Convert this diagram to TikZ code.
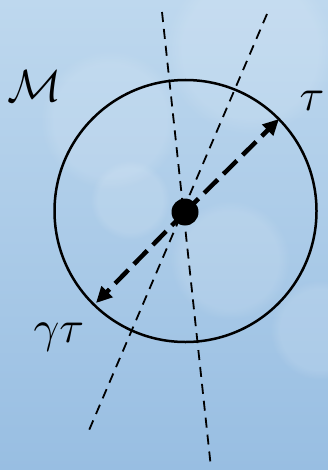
\documentclass[tikz,border=0pt]{standalone}
\usepackage{graphicx}
\usetikzlibrary{arrows.meta,fadings}
\definecolor{bgtop}{RGB}{190,216,238}
\definecolor{bgbot}{RGB}{152,190,226}
\newcommand{\largesym}[1]{\scalebox{4.5}{$#1$}}
\tikzset{
  thinDash/.style={line width=1.8pt, dash pattern=on 10pt off 7pt},
  bigArrow/.style={line width=4.5pt, dash pattern=on 19pt off 8pt, -{Triangle[length=16pt,width=15pt]}},
  lbl/.style={inner sep=0pt},
  blob/.style={fill=white, fill opacity=0.12, path fading=circle with fuzzy edge 20 percent}
}
\begin{document}
\begin{tikzpicture}[x=1pt,y=-1pt]
\useasboundingbox (0,0) rectangle (328,470);
\shade[top color=bgtop, bottom color=bgbot] (0,0) rectangle (328,470);
\fill[blob] (250,50) circle (85);
\fill[blob] (110,120) circle (70);
\fill[blob] (130,200) circle (40);
\fill[blob] (230,260) circle (60);
\fill[blob] (320,330) circle (50);
\node[circle, draw, line width=2.5pt, minimum size=262pt, inner sep=0pt] (m) at (185.5,211) {};
\node[circle, fill=black, minimum size=27pt, inner sep=0pt] (c) at (185,212) {};
\coordinate (l1a) at (162,12);
\coordinate (l1b) at (211,468);
\coordinate (l2a) at (267,14);
\coordinate (l2b) at (87,435);
\draw[thinDash] (l1a) -- (l1b);
\draw[thinDash] (l2a) -- (l2b);
\coordinate (tt) at (279,119);
\coordinate (gt) at (96,303);
\draw[bigArrow] (c.center) -- (tt);
\draw[bigArrow] (c.center) -- (gt);
\node[lbl] (M) at (35,86) {\largesym{\mathcal{M}}};
\node[lbl] (tau) at (312,101) {\largesym{\tau}};
\node[lbl] (gtau) at (59,337) {\largesym{\gamma\tau}};
\end{tikzpicture}
\end{document}
